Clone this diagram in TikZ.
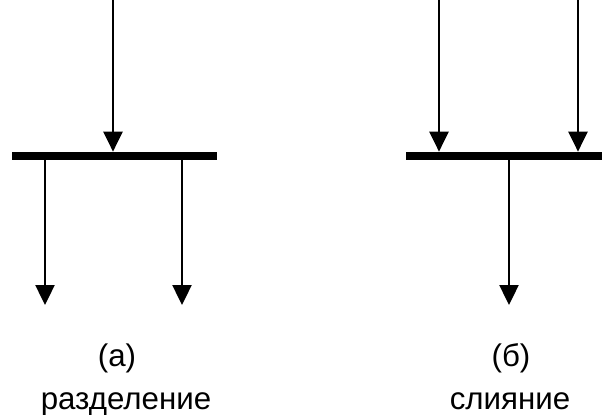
\documentclass[tikz,border=0pt]{standalone}
\usepackage{fontspec}
\setmainfont{Liberation Sans}
\usetikzlibrary{arrows.meta}

\tikzset{
	bar/.style={fill=black, inner sep=0pt, minimum height=0.16cm},
	flow/.style={line width=1.4pt, -{Triangle[width=0.38cm, length=0.4cm]}},
	caption/.style={anchor=base, inner sep=0pt, font=\fontsize{17.8}{20}\selectfont}
}

\begin{document}
\begin{tikzpicture}[x=0.02cm, y=-0.02cm]
			%%%%% START %%%%%
			\useasboundingbox (0, 0) rectangle (602, 415);
			
			% (a) split
			\node[bar, minimum width=4.1cm] (splitbar) at (114.5, 156) {};
			\coordinate (splitin) at (113, 0);
			\coordinate (splitoutA) at (45, 305);
			\coordinate (splitoutB) at (182, 305);
			\draw[flow] (splitin) -- (splitin |- splitbar.north);
			\draw[flow] (splitoutA |- splitbar.south) -- (splitoutA);
			\draw[flow] (splitoutB |- splitbar.south) -- (splitoutB);
			
			% (b) merge
			\node[bar, minimum width=3.92cm] (mergebar) at (504, 156) {};
			\coordinate (mergeinA) at (439, 0);
			\coordinate (mergeinB) at (578, 0);
			\coordinate (mergeout) at (509, 305);
			\draw[flow] (mergeinA) -- (mergeinA |- mergebar.north);
			\draw[flow] (mergeinB) -- (mergeinB |- mergebar.north);
			\draw[flow] (mergeout |- mergebar.south) -- (mergeout);
			
			\node[caption] (splittag) at (117, 366) {(а)};
			\node[caption] (splitname) at (126, 409) {разделение};
			\node[caption] (mergetag) at (511, 366) {(б)};
			\node[caption] (mergename) at (510, 409) {слияние};
			%%%%% END %%%%%
\end{tikzpicture}
\end{document}
